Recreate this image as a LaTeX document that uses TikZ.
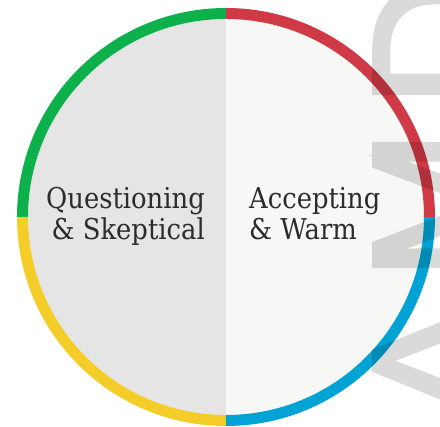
\documentclass[tikz,border=0pt]{standalone}
\usepackage{fontspec}
\newfontfamily\slabfont[FakeStretch=0.9]{DejaVu Serif}
\newfontfamily\bigsans[FakeBold=2.5]{Liberation Sans}
\definecolor{leftfill}{HTML}{E5E5E5}
\definecolor{rightfill}{HTML}{F7F7F5}
\definecolor{ringgreen}{RGB}{13,177,75}
\definecolor{ringred}{RGB}{208,58,70}
\definecolor{ringblue}{RGB}{0,163,212}
\definecolor{ringyellow}{RGB}{245,205,40}
\definecolor{labeltext}{HTML}{2C2C2C}
\tikzset{
  ringarc/.style={line width=11pt, line cap=butt},
  biglabel/.style={font=\slabfont\fontsize{28.7}{34}\selectfont, text=labeltext, inner sep=0pt},
  bigletter/.style={font=\bigsans\fontsize{182}{182}\selectfont, text=black, rotate=90, inner sep=0pt, anchor=center}
}
\begin{document}
\begin{tikzpicture}[x=1pt,y=1pt]
\useasboundingbox (0,0) rectangle (440,427);
\coordinate (c) at (226,210);
% half fills
\fill[leftfill] (226,413.5) arc (90:270:203.5) -- cycle;
\fill[rightfill] (226,413.5) arc (90:-90:203.5) -- cycle;
% ring quadrants
\draw[ringarc, ringgreen] (226,413.5) arc (90:180:203.5);
\draw[ringarc, ringyellow] (22.5,210) arc (180:270:203.5);
\draw[ringarc, ringblue] (226,6.5) arc (270:360:203.5);
\draw[ringarc, ringred] (429.5,210) arc (0:90:203.5);
% labels
\node[biglabel, anchor=base east] (q1) at (205,218) {Questioning};
\node[biglabel, anchor=base east] (q2) at (205,187) {\& Skeptical};
\node[biglabel, anchor=base west] (a1) at (249,218) {Accepting};
\node[biglabel, anchor=base west] (a2) at (249,187) {\& Warm};
% large rotated letters
\begin{scope}[transparency group, opacity=0.145]
\clip (0,0) rectangle (440,427);
\node[bigletter] (la) at (437,66) {A};
\node[bigletter] (lm) at (437,222) {M};
\node[bigletter] (ld) at (437,385) {D};
\end{scope}
\end{tikzpicture}
\end{document}
